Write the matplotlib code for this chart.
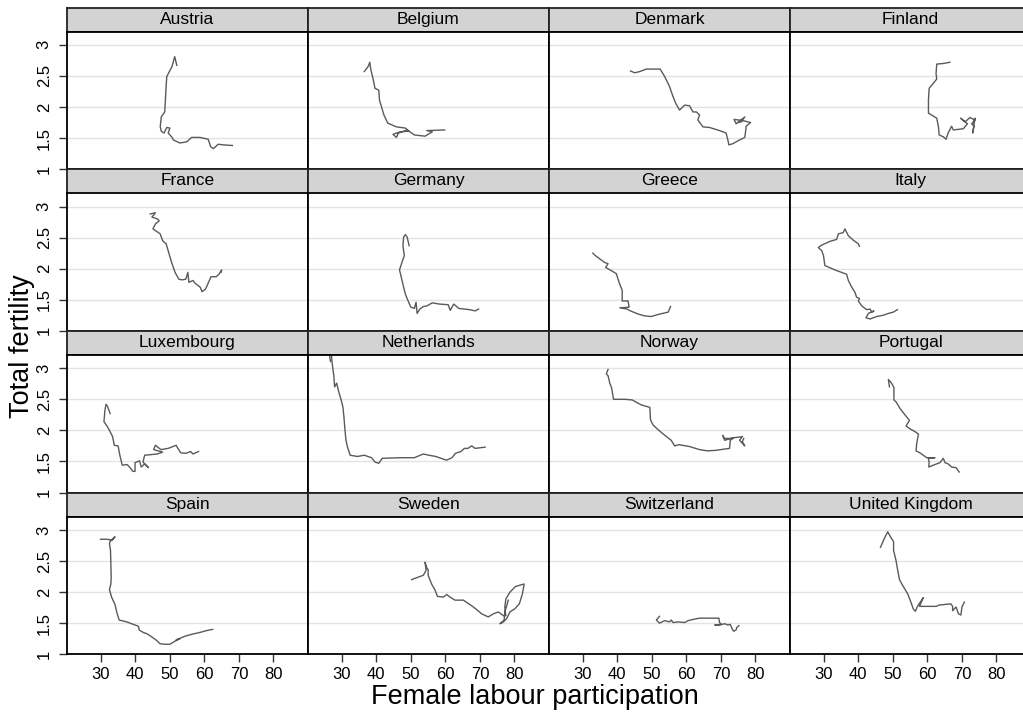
import matplotlib.pyplot as plt

# Datos: participacion laboral femenina (x) y fecundidad total (y)
paises = ["Austria", "Belgium", "Denmark", "Finland",
          "France", "Germany", "Greece", "Italy",
          "Luxembourg", "Netherlands", "Norway", "Portugal",
          "Spain", "Sweden", "Switzerland", "United Kingdom"]

austria_x = [52.0, 51.4, 50.6, 49.1, 48.9, 48.7, 48.5, 47.5, 47.2, 47.5, 48.3, 49.1, 50.0, 49.5,
             50.5, 51.0, 52.9, 54.9, 56.3, 58.7, 61.1, 61.8, 62.6, 64.0, 65.5, 68.1]
austria_y = [2.67, 2.81, 2.65, 2.49, 2.33, 2.11, 1.92, 1.84, 1.68, 1.61, 1.58, 1.67, 1.66, 1.58,
             1.52, 1.47, 1.42, 1.44, 1.51, 1.51, 1.48, 1.36, 1.33, 1.40, 1.39, 1.38]

belgium_x = [36.5, 37.6, 38.1, 38.4, 39.1, 39.6, 40.7, 40.9, 42.2, 43.3, 45.8, 48.4, 49.5, 46.9,
             44.8, 45.8, 46.4, 48.9, 51.0, 54.1, 56.2, 54.6, 59.8]
belgium_y = [2.57, 2.65, 2.72, 2.60, 2.44, 2.30, 2.27, 2.11, 1.87, 1.74, 1.68, 1.66, 1.61, 1.60,
             1.56, 1.51, 1.58, 1.63, 1.55, 1.53, 1.60, 1.62, 1.63]

denmark_x = [43.8, 45.0, 46.5, 48.4, 52.4, 53.7, 55.1, 56.1, 56.9, 58.0, 59.5, 60.9, 61.9, 62.9,
             63.8, 63.3, 64.8, 66.7, 69.6, 71.5, 72.0, 72.3, 73.5, 75.4, 76.9, 77.2, 77.3, 78.6,
             76.4, 73.8, 74.4, 76.9, 75.9, 75.0]
denmark_y = [2.58, 2.55, 2.57, 2.61, 2.61, 2.49, 2.33, 2.17, 2.06, 1.95, 2.03, 2.02, 1.92, 1.92,
             1.87, 1.79, 1.68, 1.67, 1.62, 1.58, 1.47, 1.39, 1.41, 1.47, 1.51, 1.63, 1.69, 1.75,
             1.78, 1.80, 1.73, 1.84, 1.76, 1.75]

finland_x = [66.5, 64.6, 62.7, 62.5, 62.7, 61.7, 60.5, 60.3, 60.3, 61.2, 62.7, 63.2, 63.4, 64.6,
             65.4, 66.0, 67.0, 67.5, 70.4, 71.6, 69.6, 70.9, 72.3, 73.8, 72.8, 73.5, 73.1, 73.8, 73.3]
finland_y = [2.72, 2.70, 2.69, 2.54, 2.45, 2.38, 2.30, 2.11, 1.90, 1.87, 1.82, 1.68, 1.55, 1.52,
             1.48, 1.58, 1.69, 1.63, 1.65, 1.73, 1.82, 1.76, 1.83, 1.79, 1.73, 1.69, 1.58, 1.82, 1.75]

france_x = [44.3, 45.8, 44.8, 46.4, 46.9, 45.8, 45.1, 46.4, 47.2, 47.9, 48.9, 49.5, 50.5, 51.5,
            52.6, 53.6, 54.6, 55.2, 55.5, 56.7, 57.2, 58.8, 59.3, 60.3, 60.8, 61.9, 63.4, 64.2,
            65.0, 64.8]
france_y = [2.88, 2.90, 2.83, 2.80, 2.77, 2.72, 2.64, 2.59, 2.56, 2.45, 2.40, 2.29, 2.10, 1.94,
            1.83, 1.82, 1.83, 1.94, 1.78, 1.81, 1.77, 1.70, 1.63, 1.67, 1.73, 1.87, 1.87, 1.91,
            1.98, 1.94]

germany_x = [49.5, 48.9, 48.4, 47.9, 47.7, 48.1, 47.4, 46.7, 47.1, 47.9, 48.4, 49.2, 50.0, 51.0,
             51.5, 51.8, 52.6, 53.6, 54.6, 56.2, 58.3, 60.8, 61.4, 62.4, 63.9, 65.5, 67.0, 68.6, 69.6]
germany_y = [2.37, 2.51, 2.55, 2.51, 2.37, 2.21, 2.10, 1.98, 1.89, 1.70, 1.59, 1.48, 1.38, 1.36,
             1.46, 1.28, 1.35, 1.39, 1.40, 1.45, 1.43, 1.42, 1.33, 1.43, 1.36, 1.35, 1.34, 1.32, 1.35]

greece_x = [32.9, 33.4, 36.3, 37.3, 36.6, 38.2, 39.7, 40.5, 41.4, 41.4, 43.1, 43.4, 40.7, 42.8,
            43.8, 46.0, 47.9, 49.8, 52.3, 54.7, 55.4]
greece_y = [2.25, 2.22, 2.10, 2.08, 2.02, 1.97, 1.92, 1.78, 1.65, 1.48, 1.48, 1.38, 1.37, 1.35,
            1.32, 1.27, 1.24, 1.23, 1.27, 1.30, 1.39]

italy_x = [40.3, 40.0, 38.5, 37.1, 36.1, 35.6, 34.2, 33.7, 31.8, 29.4, 28.4, 29.4, 29.9, 30.3,
           33.2, 36.6, 37.1, 38.1, 39.0, 39.5, 40.3, 40.0, 41.0, 42.4, 43.4, 43.9, 44.5, 42.9,
           42.2, 43.4, 45.3, 47.2, 48.7, 50.1, 51.3]
italy_y = [2.36, 2.40, 2.46, 2.53, 2.64, 2.58, 2.56, 2.47, 2.44, 2.38, 2.34, 2.29, 2.21, 2.05,
           1.98, 1.91, 1.81, 1.70, 1.62, 1.54, 1.52, 1.48, 1.40, 1.34, 1.35, 1.30, 1.32, 1.28,
           1.21, 1.19, 1.23, 1.25, 1.28, 1.30, 1.34]

luxembourg_x = [32.7, 31.9, 31.5, 31.2, 30.9, 31.9, 32.4, 33.4, 33.9, 35.0, 35.5, 36.2, 37.6, 38.3,
                39.3, 39.9, 39.9, 41.2, 41.7, 42.7, 43.8, 42.2, 42.7, 46.4, 47.9, 45.3, 45.8, 47.4,
                49.5, 51.8, 53.1, 54.6, 56.0, 56.7, 58.3]
luxembourg_y = [2.27, 2.39, 2.42, 2.33, 2.14, 2.06, 2.01, 1.90, 1.76, 1.75, 1.60, 1.44, 1.45, 1.41,
                1.34, 1.34, 1.48, 1.51, 1.41, 1.46, 1.40, 1.49, 1.60, 1.62, 1.65, 1.69, 1.76, 1.69,
                1.71, 1.76, 1.64, 1.63, 1.66, 1.62, 1.66]

netherlands_x = [26.7, 26.4, 27.0, 27.2, 27.7, 27.9, 28.5, 29.1, 29.8, 30.3, 30.6, 30.9, 31.2, 31.6,
                 32.4, 34.5, 36.5, 38.6, 39.6, 40.7, 41.7, 46.9, 51.0, 53.6, 55.2, 57.2, 59.3, 60.3,
                 61.9, 62.9, 64.5, 65.5, 66.5, 67.6, 68.6, 71.5]
netherlands_y = [3.11, 3.22, 3.20, 3.08, 2.87, 2.70, 2.76, 2.62, 2.49, 2.38, 2.22, 2.01, 1.84, 1.74,
                 1.60, 1.58, 1.60, 1.56, 1.49, 1.47, 1.55, 1.56, 1.56, 1.62, 1.60, 1.58, 1.54, 1.52,
                 1.56, 1.63, 1.66, 1.71, 1.71, 1.75, 1.71, 1.73]

norway_x = [37.3, 36.8, 37.3, 37.8, 38.3, 38.9, 42.1, 44.3, 46.9, 49.4, 49.6, 50.3, 51.8, 54.2,
            55.6, 56.6, 57.8, 60.9, 63.8, 66.2, 68.7, 71.1, 72.5, 72.7, 73.5, 70.8, 70.6, 71.1,
            73.4, 75.1, 76.2, 75.4, 76.9, 76.2, 76.6]
norway_y = [2.98, 2.91, 2.88, 2.76, 2.69, 2.50, 2.50, 2.49, 2.41, 2.37, 2.17, 2.09, 2.01, 1.90,
            1.84, 1.75, 1.77, 1.74, 1.69, 1.67, 1.68, 1.70, 1.71, 1.84, 1.87, 1.87, 1.92, 1.84,
            1.88, 1.89, 1.90, 1.84, 1.75, 1.82, 1.87]

portugal_x = [49.0, 48.7, 49.6, 50.3, 50.3, 50.9, 52.1, 53.5, 54.8, 53.8, 55.1, 56.4, 57.4, 56.9,
              56.7, 57.8, 58.8, 59.8, 62.2, 60.3, 60.5, 60.4, 61.7, 63.6, 64.6, 65.1, 66.0, 67.0,
              68.3, 69.2]
portugal_y = [2.70, 2.82, 2.76, 2.69, 2.49, 2.46, 2.35, 2.25, 2.16, 2.07, 2.02, 1.98, 1.94, 1.79,
              1.67, 1.64, 1.60, 1.56, 1.56, 1.55, 1.48, 1.41, 1.44, 1.48, 1.55, 1.48, 1.46, 1.41,
              1.40, 1.33]

spain_x = [29.9, 31.7, 33.1, 34.1, 33.4, 32.7, 32.5, 32.8, 32.9, 33.0, 32.9, 32.5, 33.1, 34.1,
           34.6, 35.3, 37.5, 39.4, 40.9, 41.1, 42.3, 43.3, 44.2, 45.2, 46.2, 47.1, 48.6, 50.0,
           51.5, 52.9, 51.8, 54.4, 56.3, 58.7, 60.6, 62.4]
spain_y = [2.85, 2.85, 2.84, 2.89, 2.84, 2.82, 2.78, 2.67, 2.46, 2.24, 2.13, 2.04, 1.92, 1.80,
           1.68, 1.55, 1.52, 1.48, 1.45, 1.39, 1.35, 1.33, 1.30, 1.26, 1.22, 1.17, 1.16, 1.16,
           1.21, 1.25, 1.23, 1.29, 1.32, 1.35, 1.38, 1.40]

sweden_x = [50.2, 52.1, 53.6, 54.4, 54.1, 54.6, 55.0, 55.0, 56.0, 57.0, 57.7, 59.4, 60.4, 61.3,
            62.8, 65.2, 67.6, 69.0, 70.5, 72.4, 73.9, 75.3, 76.8, 77.5, 77.2, 77.5, 78.7, 80.3,
            82.8, 82.3, 81.4, 80.1, 78.7, 77.7, 76.8, 75.8, 77.0, 77.2, 77.7, 78.2]
sweden_y = [2.20, 2.24, 2.27, 2.35, 2.48, 2.39, 2.36, 2.27, 2.13, 2.03, 1.93, 1.92, 1.96, 1.92,
            1.87, 1.87, 1.78, 1.72, 1.65, 1.60, 1.65, 1.68, 1.62, 1.62, 1.76, 1.89, 2.00, 2.09,
            2.13, 1.97, 1.81, 1.73, 1.68, 1.57, 1.52, 1.49, 1.55, 1.68, 1.77, 1.87]

switzerland_x = [52.2, 51.3, 52.2, 53.7, 55.1, 55.6, 56.1, 57.6, 59.5, 60.5, 61.9, 63.8, 65.8, 68.2,
                 69.4, 69.6, 70.1, 68.2, 69.6, 71.1, 72.0, 72.7, 73.3, 73.7, 74.4, 74.6, 75.2]
switzerland_y = [1.61, 1.55, 1.50, 1.54, 1.52, 1.55, 1.51, 1.52, 1.51, 1.54, 1.56, 1.58, 1.58, 1.58,
                 1.58, 1.51, 1.48, 1.47, 1.47, 1.49, 1.47, 1.48, 1.40, 1.37, 1.39, 1.43, 1.46]

uk_x = [46.4, 47.5, 48.5, 49.4, 50.2, 50.2, 50.9, 51.4, 51.9, 52.8, 54.3, 55.2, 55.9, 56.5,
        57.2, 58.1, 58.8, 57.7, 59.6, 62.5, 63.4, 64.9, 66.8, 67.3, 67.3, 68.3, 69.0, 69.7,
        70.0, 70.7]
uk_y = [2.72, 2.86, 2.97, 2.88, 2.81, 2.67, 2.51, 2.35, 2.20, 2.11, 1.97, 1.84, 1.73, 1.69,
        1.78, 1.85, 1.91, 1.77, 1.77, 1.77, 1.79, 1.80, 1.81, 1.77, 1.70, 1.76, 1.65, 1.63,
        1.76, 1.84]

series = [(austria_x, austria_y), (belgium_x, belgium_y), (denmark_x, denmark_y), (finland_x, finland_y),
          (france_x, france_y), (germany_x, germany_y), (greece_x, greece_y), (italy_x, italy_y),
          (luxembourg_x, luxembourg_y), (netherlands_x, netherlands_y), (norway_x, norway_y),
          (portugal_x, portugal_y), (spain_x, spain_y), (sweden_x, sweden_y),
          (switzerland_x, switzerland_y), (uk_x, uk_y)]

x_ticks = [30, 40, 50, 60, 70, 80]
y_ticks = [1, 1.5, 2, 2.5, 3]
y_tick_labels = ["1", "1.5", "2", "2.5", "3"]

plt.rcParams['font.family'] = ['Liberation Sans', 'DejaVu Sans']

W, H = 1023, 715
fig = plt.figure(figsize=(W / 100, H / 100), dpi=100)

# Geometria de los paneles en pixeles
izq0 = 67
ancho = 241
arriba0 = 7.5
paso = 161.7
alto_tira = 24.3
alto_panel = 137.3

for i, (nombre, (xs, ys)) in enumerate(zip(paises, series)):
    fila, col = divmod(i, 4)
    x0 = izq0 + col * ancho
    top_tira = arriba0 + fila * paso
    top_panel = top_tira + alto_tira

    # Tira gris con el nombre del pais
    ax_t = fig.add_axes([x0 / W, 1 - top_panel / H, ancho / W, alto_tira / H])
    ax_t.set_facecolor('#d3d3d3')
    ax_t.set_xticks([])
    ax_t.set_yticks([])
    for s in ax_t.spines.values():
        s.set_color('#222222')
        s.set_linewidth(1.3)
    ax_t.text(0.5, 0.52, nombre, ha='center', va='center', fontsize=12.5,
              transform=ax_t.transAxes)

    # Panel con la trayectoria
    ax = fig.add_axes([x0 / W, 1 - (top_panel + alto_panel) / H, ancho / W, alto_panel / H])
    ax.plot(xs, ys, color='#5a5a5a', linewidth=1.0)
    ax.set_xlim(20.2, 90)
    ax.set_ylim(1, 3.21)
    for yv in y_ticks[1:]:
        ax.axhline(yv, color='#e3e3e3', linewidth=1.0, zorder=0)
    for s in ax.spines.values():
        s.set_color('black')
        s.set_linewidth(1.3)

    ax.set_xticks(x_ticks)
    ax.set_yticks(y_ticks)
    if fila == 3:
        ax.set_xticklabels([str(v) for v in x_ticks], fontsize=12)
        ax.tick_params(axis='x', length=6, width=1, pad=3, color='#333333')
    else:
        ax.tick_params(axis='x', length=0, labelbottom=False)
    if col == 0:
        ax.set_yticklabels(y_tick_labels, fontsize=12, rotation=90, va='center')
        ax.tick_params(axis='y', length=6, width=1, pad=5, color='#333333')
    else:
        ax.tick_params(axis='y', length=0, labelleft=False)

fig.text(535 / W, 1 - 704 / H, "Female labour participation", ha='center', va='baseline',
         fontsize=19.5)
fig.text(22 / W, 1 - 346 / H, "Total fertility", ha='center', va='center', fontsize=19.5,
         rotation=90)

fig.savefig("out.png", dpi=100)
